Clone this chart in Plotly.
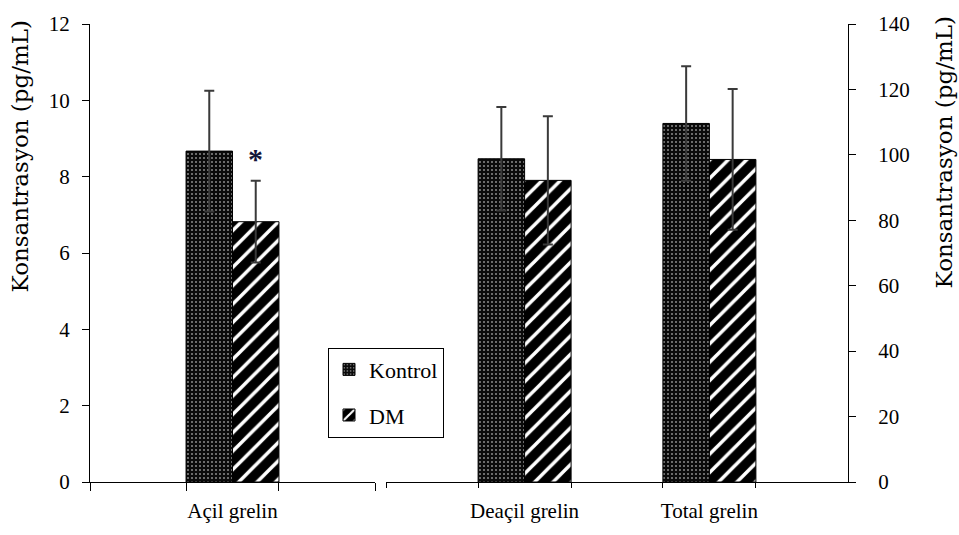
import plotly.graph_objects as go

# ---- data ----
left_categories = ["Açil grelin"]
right_categories = ["Deaçil grelin", "Total grelin"]
series = ["Kontrol", "DM"]

left_kontrol = [8.67]
left_kontrol_err = [1.58]
left_dm = [6.82]
left_dm_err = [1.07]

right_kontrol = [98.8, 109.6]
right_kontrol_err = [15.8, 17.5]
right_dm = [92.2, 98.6]
right_dm_err = [19.6, 21.5]

left_ticks = [0, 2, 4, 6, 8, 10, 12]
right_ticks = [0, 20, 40, 60, 80, 100, 120, 140]
y_title = "Konsantrasyon (pg/mL)"
significance = "*"

# ---- styling ----
FONT = "Liberation Serif, Times New Roman, serif"
W, H = 959, 535
ml, mr, mt, mb = 90, 111, 23, 52
plot_w = W - ml - mr
plot_h = H - mt - mb
left_dom = [0, (375 - 90) / plot_w]
right_dom = [(386 - 90) / plot_w, 1]

left_pos = list(range(len(left_categories)))
right_pos = list(range(len(right_categories)))
left_range = [-0.5, len(left_categories) - 0.5]
right_range = [-0.75, len(right_categories) - 0.25]
wl = 0.163   # bar width (left axis units)
wr = 0.2516  # bar width (right axis units)

pat_k = dict(shape=".", bgcolor="#0a0a0a", fgcolor="#8c8c8c", size=4, solidity=0.2, fillmode="replace")
pat_d = dict(shape="/", bgcolor="black", fgcolor="white", size=13, solidity=0.27, fillmode="replace")
err_style = dict(type="data", visible=True, color="#3a3a3a", thickness=2, width=5)

fig = go.Figure()

fig.add_trace(go.Bar(name=series[0], x=left_pos, y=left_kontrol, width=wl, offset=-wl,
                     marker=dict(color="black", pattern=pat_k, line=dict(color="black", width=1)),
                     error_y=dict(array=left_kontrol_err, **err_style),
                     xaxis="x", yaxis="y", legendgroup="k", showlegend=True))
fig.add_trace(go.Bar(name=series[1], x=left_pos, y=left_dm, width=wl, offset=0,
                     marker=dict(color="black", pattern=pat_d, line=dict(color="black", width=1)),
                     error_y=dict(array=left_dm_err, **err_style),
                     xaxis="x", yaxis="y", legendgroup="d", showlegend=True))
fig.add_trace(go.Bar(name=series[0], x=right_pos, y=right_kontrol, width=wr, offset=-wr,
                     marker=dict(color="black", pattern=pat_k, line=dict(color="black", width=1)),
                     error_y=dict(array=right_kontrol_err, **err_style),
                     xaxis="x2", yaxis="y2", legendgroup="k", showlegend=False))
fig.add_trace(go.Bar(name=series[1], x=right_pos, y=right_dm, width=wr, offset=0,
                     marker=dict(color="black", pattern=pat_d, line=dict(color="black", width=1)),
                     error_y=dict(array=right_dm_err, **err_style),
                     xaxis="x2", yaxis="y2", legendgroup="d", showlegend=False))

left_minor = [left_range[0]] + [p + s for p in left_pos for s in (-wl, wl)] + [left_range[1]]
right_minor = [right_range[0]] + [p + s for p in right_pos for s in (-wr, wr)]

tickfont = dict(family=FONT, size=21, color="black")
xcommon = dict(showline=True, linecolor="black", linewidth=1, showgrid=False, zeroline=False,
               ticks="", tickfont=tickfont, ticklabelstandoff=10, fixedrange=True)

fig.update_layout(
    width=W, height=H,
    margin=dict(l=ml, r=mr, t=mt, b=mb),
    paper_bgcolor="white", plot_bgcolor="white",
    barmode="overlay",
    xaxis=dict(domain=left_dom, range=left_range, anchor="y",
               tickmode="array", tickvals=left_pos, ticktext=left_categories,
               minor=dict(tickmode="array", tickvals=left_minor, ticks="outside",
                          ticklen=8, tickcolor="black", tickwidth=1, showgrid=False),
               **xcommon),
    xaxis2=dict(domain=right_dom, range=right_range, anchor="y2",
                tickmode="array", tickvals=right_pos, ticktext=right_categories,
                minor=dict(tickmode="array", tickvals=right_minor, ticks="outside",
                           ticklen=5, tickcolor="black", tickwidth=1, showgrid=False),
                **xcommon),
    yaxis=dict(range=[left_ticks[0], left_ticks[-1]], tickmode="array", tickvals=left_ticks,
               anchor="x", side="left", showline=True, linecolor="black", linewidth=1,
               ticks="outside", ticklen=7, tickcolor="black", showgrid=False, zeroline=False,
               tickfont=tickfont, ticklabelstandoff=8, fixedrange=True),
    yaxis2=dict(range=[right_ticks[0], right_ticks[-1]], tickmode="array", tickvals=right_ticks,
                anchor="x2", overlaying="y", side="right", showline=True, linecolor="black",
                linewidth=1, ticks="outside", ticklen=7, tickcolor="black", showgrid=False,
                zeroline=False, tickfont=tickfont, ticklabelstandoff=18, fixedrange=True),
    legend=dict(x=(328 - ml) / plot_w, y=(483 - 348) / plot_h, xanchor="left", yanchor="top",
                bordercolor="black", borderwidth=1, bgcolor="white",
                font=dict(family=FONT, size=22, color="black"),
                tracegroupgap=14, traceorder="grouped", itemwidth=30),
    showlegend=True,
)

fig.add_annotation(text=y_title, xref="paper", yref="paper", x=0, y=(483 - 156) / plot_h,
                   xshift=-70, xanchor="center", yanchor="middle", textangle=-90, showarrow=False,
                   font=dict(family="DejaVu Serif", size=23, color="black"))
fig.add_annotation(text=y_title, xref="paper", yref="paper", x=1, y=(483 - 152) / plot_h,
                   xshift=96, xanchor="center", yanchor="middle", textangle=-90, showarrow=False,
                   font=dict(family="DejaVu Serif", size=23, color="black"))
fig.add_annotation(text="<b>" + significance + "</b>", xref="x", yref="y", x=left_pos[0] + wl / 2,
                   y=left_dm[0] + left_dm_err[0], yanchor="bottom", showarrow=False, yshift=4,
                   font=dict(family=FONT, size=30, color="#15153a"))

fig.write_html("out.html")
